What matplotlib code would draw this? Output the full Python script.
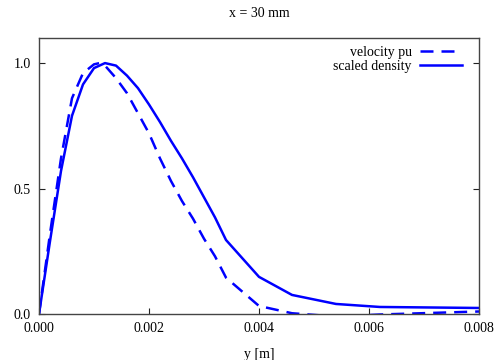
import matplotlib
matplotlib.use("Agg")
import matplotlib.pyplot as plt

plt.rcParams['font.family'] = ['Liberation Serif', 'DejaVu Serif']

y_vel = [0.0, 0.0002, 0.0004, 0.0006, 0.0008, 0.001, 0.0011, 0.0012, 0.0014, 0.0016, 0.0018,
         0.002, 0.0022, 0.0024, 0.0026, 0.0028, 0.003, 0.0032, 0.0034,
         0.004, 0.0046, 0.0054, 0.0062, 0.008]
velocity = [0.0, 0.32, 0.62, 0.86, 0.96, 0.995, 1.0, 0.99, 0.94, 0.88, 0.80,
            0.72, 0.62, 0.53, 0.45, 0.38, 0.30, 0.23, 0.145,
            0.032, 0.003, -0.01, -0.002, 0.01]

y_den = [0.0, 0.0002, 0.0004, 0.0006, 0.0008, 0.001, 0.0012, 0.0014, 0.0016, 0.0018,
         0.002, 0.0022, 0.0024, 0.0026, 0.0028, 0.003, 0.0032, 0.0034,
         0.004, 0.0046, 0.0054, 0.0062, 0.008]
density = [0.0, 0.29, 0.57, 0.79, 0.915, 0.98, 1.0, 0.99, 0.95, 0.90,
           0.835, 0.765, 0.69, 0.62, 0.545, 0.465, 0.385, 0.295,
           0.148, 0.076, 0.04, 0.028, 0.024]

xticks = [0.0, 0.002, 0.004, 0.006, 0.008]
xticklabels = ["0.000", "0.002", "0.004", "0.006", "0.008"]
yticks = [0.0, 0.5, 1.0]
yticklabels = ["0.0", "0.5", "1.0"]

fig = plt.figure(figsize=(4.95, 3.6), dpi=100)
ax = fig.add_axes([39/495, 46/360, 440/495, 276/360])

ax.plot(y_vel, velocity, color='#0000ff', lw=1.8, linestyle=(0, (5.2, 3.2)),
        dash_capstyle='butt', label='velocity pu')
ax.plot(y_den, density, color='#0000ff', lw=1.8, label='scaled density')

ax.set_xlim(0, 0.008)
ax.set_ylim(0, 1.1)
ax.set_xticks(xticks)
ax.set_xticklabels(xticklabels)
ax.set_yticks(yticks)
ax.set_yticklabels(yticklabels)
ax.tick_params(direction='in', length=4, width=0.8, labelsize=10, color='#222222',
               right=True, top=False, pad=6)
for s in ax.spines.values():
    s.set_color('#444444')
    s.set_linewidth(1.0)

ax.set_title('x = 30 mm', fontsize=10, pad=15)
ax.set_xlabel('y [m]', fontsize=10, labelpad=9)

leg = ax.legend(loc='upper right', frameon=False, markerfirst=False, fontsize=10,
                handlelength=3.0, handletextpad=0.6, labelspacing=0.05,
                borderaxespad=0.2, bbox_to_anchor=(0.98, 1.0))

fig.savefig('out.png', dpi=100)
